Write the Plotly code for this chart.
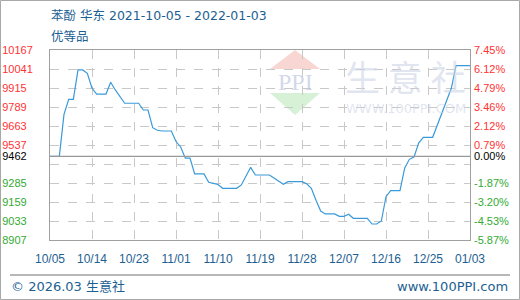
import plotly.graph_objects as go

# ---- data ----
dates = [
    "2021-10-05", "2021-10-07", "2021-10-08", "2021-10-09", "2021-10-10", "2021-10-11",
    "2021-10-12", "2021-10-13", "2021-10-14", "2021-10-15", "2021-10-17", "2021-10-18",
    "2021-10-19", "2021-10-20", "2021-10-21", "2021-10-24", "2021-10-25", "2021-10-26",
    "2021-10-27", "2021-10-28", "2021-10-29", "2021-10-31", "2021-11-01", "2021-11-02",
    "2021-11-03", "2021-11-04", "2021-11-05", "2021-11-07", "2021-11-08", "2021-11-09",
    "2021-11-10", "2021-11-11", "2021-11-14", "2021-11-15", "2021-11-16", "2021-11-17",
    "2021-11-18", "2021-11-21", "2021-11-22", "2021-11-23", "2021-11-24", "2021-11-25",
    "2021-11-28", "2021-11-29", "2021-11-30", "2021-12-01", "2021-12-02", "2021-12-03",
    "2021-12-05", "2021-12-06", "2021-12-07", "2021-12-08", "2021-12-09", "2021-12-12",
    "2021-12-13", "2021-12-14", "2021-12-15", "2021-12-16", "2021-12-17", "2021-12-19",
    "2021-12-20", "2021-12-21", "2021-12-22", "2021-12-23", "2021-12-24", "2021-12-26",
    "2021-12-27", "2021-12-28", "2021-12-29", "2021-12-30", "2021-12-31", "2022-01-03",
]
prices = [
    9462, 9462, 9740, 9840, 9840, 10035,
    10035, 10012, 9913, 9875, 9875, 9953,
    9902, 9860, 9814, 9814, 9769, 9769,
    9652, 9635, 9630, 9630, 9560, 9524,
    9450, 9450, 9345, 9345, 9290, 9283,
    9275, 9250, 9250, 9272, 9330, 9389,
    9338, 9338, 9318, 9298, 9276, 9294,
    9294, 9280, 9250, 9170, 9099, 9080,
    9080, 9064, 9064, 9078, 9051, 9051,
    9013, 9013, 9033, 9194, 9234, 9234,
    9383, 9442, 9457, 9550, 9588, 9588,
    9670, 9750, 9830, 9913, 10063, 10063,
]

base_value = 9462
left_tick_values = [8907, 9033, 9159, 9285, 9411, 9462, 9537, 9663, 9789, 9915, 10041, 10167]
left_tick_labels = ["8907", "9033", "9159", "9285", "", "9462", "9537", "9663", "9789", "9915", "10041", "10167"]
right_tick_labels = ["-5.87%", "-4.53%", "-3.20%", "-1.87%", "", "0.00%", "0.79%", "2.12%", "3.46%", "4.79%", "6.12%", "7.45%"]

title_line1 = "苯酚 华东 2021-10-05 - 2022-01-03"
title_line2 = "优等品"
footer_left = "© 2026.03 生意社"
footer_right = "www.100PPI.com"

RED = "#ff3333"
GREEN = "#33aa33"
BLACK = "#000000"
BLUE_TXT = "#1d5f92"
LINE = "#3a9ad9"
BORDER = "#a0a0a0"
GRID = "#c8c8c8"


def colored(label, val):
    if label == "":
        return ""
    col = RED if val > base_value else (BLACK if val == base_value else GREEN)
    return f'<span style="color:{col}">{label}</span>'


def pad_left(label):
    # keep labels visually left aligned (pad short labels with figure spaces)
    if label == "":
        return label
    return label + "\u2007" * (5 - len(label))


left_text = [colored(pad_left(l), v) for l, v in zip(left_tick_labels, left_tick_values)]
right_text = [colored(l, v) for l, v in zip(right_tick_labels, left_tick_values)]

fig = go.Figure()
fig.add_trace(go.Scatter(
    x=dates, y=prices, mode="lines",
    line=dict(color=LINE, width=1.2),
    showlegend=False, hoverinfo="x+y",
))
# invisible trace so the right-hand axis is drawn
fig.add_trace(go.Scatter(
    x=dates, y=prices, mode="lines", yaxis="y2",
    line=dict(color="rgba(0,0,0,0)", width=0),
    showlegend=False, hoverinfo="skip",
))

yrange = [left_tick_values[0], left_tick_values[-1]]

fig.update_layout(
    width=520, height=300,
    margin=dict(l=50, r=50, t=50, b=60, autoexpand=False),
    paper_bgcolor="white", plot_bgcolor="white",
    font=dict(family="Liberation Sans, Arial, sans-serif", size=11),
    xaxis=dict(
        type="date", automargin=False,
        range=[dates[0], dates[-1]],
        tick0=dates[0], dtick=9 * 86400000,
        tickformat="%m/%d",
        showgrid=True, gridcolor=GRID, griddash="dash", gridwidth=1,
        showline=True, linecolor=BORDER, linewidth=1, mirror=True,
        ticks="", ticklabelstandoff=8,
        tickfont=dict(size=12, color=BLUE_TXT, family="Liberation Sans, Arial, sans-serif"),
        zeroline=False, fixedrange=True,
    ),
    yaxis=dict(
        range=yrange, automargin=False,
        tickmode="array", tickvals=left_tick_values, ticktext=left_text,
        showgrid=True, gridcolor=GRID, griddash="dash", gridwidth=1,
        showline=True, linecolor=BORDER, linewidth=1, mirror=True,
        ticks="", ticklabelstandoff=14,
        tickfont=dict(size=11, family="Liberation Sans, Arial, sans-serif"),
        zeroline=False, fixedrange=True,
    ),
    yaxis2=dict(
        range=yrange, overlaying="y", side="right", automargin=False,
        tickmode="array", tickvals=left_tick_values, ticktext=right_text,
        showgrid=False, showline=False, zeroline=False,
        ticks="", ticklabelstandoff=3,
        tickfont=dict(size=11, family="Liberation Sans, Arial, sans-serif"),
        fixedrange=True,
    ),
)


def px(xp):
    return (xp - 50) / 420.0


def py(yp):
    return (240 - yp) / 190.0


shapes = []
# watermark logo triangles
shapes.append(dict(type="path", xref="paper", yref="paper", layer="below",
                   path=f"M {px(295)} {py(50)} L {px(270)} {py(69)} L {px(320)} {py(69)} Z",
                   fillcolor="rgba(245,200,195,0.75)", line=dict(width=0)))
shapes.append(dict(type="path", xref="paper", yref="paper", layer="below",
                   path=f"M {px(270)} {py(93)} L {px(320)} {py(93)} L {px(295)} {py(115)} Z",
                   fillcolor="rgba(205,238,205,0.8)", line=dict(width=0)))
# solid base line at base value
shapes.append(dict(type="line", xref="x domain", yref="y", x0=0, x1=1,
                   y0=base_value, y1=base_value, line=dict(color="#999999", width=1.2)))
# footer separator
shapes.append(dict(type="line", xref="paper", yref="paper", x0=px(10), x1=px(510),
                   y0=py(275), y1=py(275), line=dict(color="#a0a0a0", width=1.5)))
# outer frame
shapes.append(dict(type="rect", xref="paper", yref="paper", x0=px(0.5), x1=px(519.5),
                   y0=py(299.5), y1=py(0.5), line=dict(color="#a8a8a8", width=1),
                   fillcolor="rgba(0,0,0,0)"))
fig.update_layout(shapes=shapes)

ann = []
ann.append(dict(text=title_line1, x=px(49), y=py(15), xref="paper", yref="paper",
                xanchor="left", yanchor="middle", showarrow=False,
                font=dict(size=12.5, color=BLUE_TXT, family="DejaVu Sans, Noto Sans CJK SC, sans-serif")))
ann.append(dict(text=title_line2, x=px(49), y=py(35), xref="paper", yref="paper",
                xanchor="left", yanchor="middle", showarrow=False,
                font=dict(size=12.5, color=BLUE_TXT, family="Noto Sans CJK SC, sans-serif")))
ann.append(dict(text=footer_left, x=px(9), y=py(286), xref="paper", yref="paper",
                xanchor="left", yanchor="middle", showarrow=False,
                font=dict(size=13, color=BLUE_TXT, family="DejaVu Sans, Noto Sans CJK SC, sans-serif")))
ann.append(dict(text=footer_right, x=px(510), y=py(286), xref="paper", yref="paper",
                xanchor="right", yanchor="middle", showarrow=False,
                font=dict(size=13, color=BLUE_TXT, family="DejaVu Sans, sans-serif")))
# watermark texts
ann.append(dict(text="PPI", x=px(295), y=py(82), xref="paper", yref="paper",
                xanchor="center", yanchor="middle", showarrow=False,
                font=dict(size=24, color="rgba(190,200,225,0.7)", family="Liberation Serif, serif")))
ann.append(dict(text="生 意 社", x=px(405), y=py(75), xref="paper", yref="paper",
                xanchor="center", yanchor="middle", showarrow=False,
                font=dict(size=35, color="rgba(205,212,230,0.6)", family="Noto Sans CJK SC, sans-serif")))
ann.append(dict(text="WWW.100PPI.COM", x=px(406), y=py(108), xref="paper", yref="paper",
                xanchor="center", yanchor="middle", showarrow=False,
                font=dict(size=13, color="rgba(205,212,230,0.6)", family="DejaVu Sans, sans-serif")))
fig.update_layout(annotations=ann)

fig.write_html("out.html")
